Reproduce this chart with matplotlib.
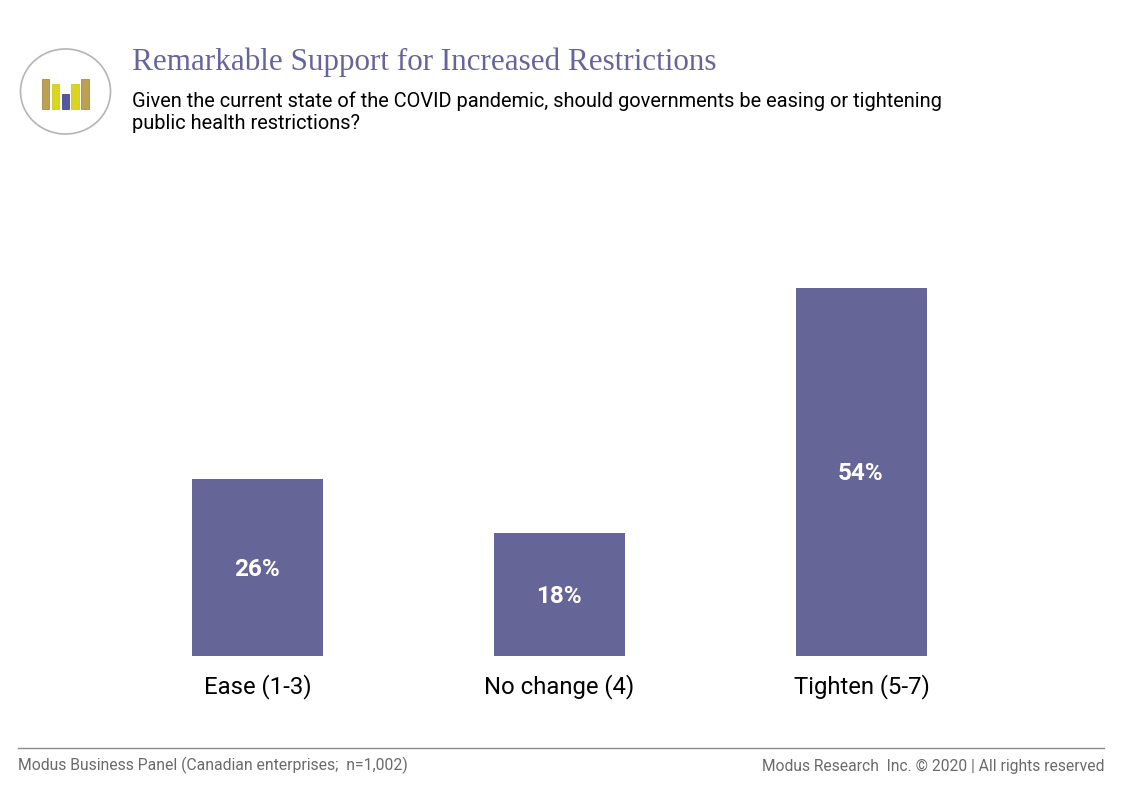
import matplotlib
matplotlib.use("Agg")
import matplotlib.pyplot as plt
from matplotlib.lines import Line2D
from matplotlib.patches import Ellipse

W, H = 1122, 793

# chart data
categories = ["Ease (1-3)", "No change (4)", "Tighten (5-7)"]
values = [26, 18, 54]
value_labels = ["26%", "18%", "54%"]

# little bar icon next to the title
icon_heights = [30, 25, 15, 25, 30]
icon_colors = ["#bca154", "#dcd41f", "#55579b", "#dcd41f", "#bca154"]
icon_edges = ["#a98c45", "#cfc82a", "#45478c", "#cfc82a", "#a98c45"]

title = "Remarkable Support for Increased Restrictions"
subtitle = ("Given the current state of the COVID pandemic, should governments be easing or tightening\n"
            "public health restrictions?")
source = "Modus Business Panel (Canadian enterprises;  n=1,002)"
copyright_text = "Modus Research  Inc. © 2020 | All rights reserved"

plt.rcParams["font.family"] = ["Roboto", "DejaVu Sans"]

fig = plt.figure(figsize=(W / 100, H / 100), dpi=100, facecolor="white")


def px_text(x, y, s, **kw):
    # place text using pixel coordinates from the top left
    return fig.text(x / W, 1 - y / H, s, **kw)


# main bars
ax = fig.add_axes([106.5 / W, 1 - 656 / H, 906 / W, 409 / H])
bars = ax.bar(categories, values, width=0.432, color="#666597")
ax.set_xlim(-0.5, 2.5)
ax.set_ylim(0, 60)
ax.set_yticks([])
for side in ax.spines:
    ax.spines[side].set_visible(False)
ax.tick_params(axis="x", length=0, pad=13, labelsize=17.2, labelcolor="black")
for bar, label in zip(bars, value_labels):
    ax.annotate(label, (bar.get_x() + bar.get_width() / 2, bar.get_height() / 2),
                xytext=(-0.7, -1.2), textcoords="offset points",
                ha="center", va="center", color="white", fontsize=17.5, fontweight="bold")

# icon, its axes uses pixel units with y going down
icon_ax = fig.add_axes([15 / W, 1 - 140 / H, 100 / W, 100 / H])
icon_ax.set_xlim(15, 115)
icon_ax.set_ylim(140, 40)
icon_ax.axis("off")
icon_ax.add_patch(Ellipse((65.5, 91.5), 90, 85, facecolor="white", edgecolor="#b5b5b5", linewidth=1.2))
icon_ax.bar([45.5, 55.5, 65.5, 75, 85], [-h for h in icon_heights], bottom=108.5, width=7.5,
            color=icon_colors, edgecolor=icon_edges, linewidth=0.6)
icon_ax.set_xlim(15, 115)
icon_ax.set_ylim(140, 40)

# header text
px_text(132, 62, title, fontsize=22.4, color="#66659b", va="center", family=["Liberation Serif", "DejaVu Serif"])
px_text(132, 112, subtitle, fontsize=14.4, color="black", va="center", linespacing=1.22)

# footer
fig.add_artist(Line2D([18 / W, 1104 / W], [1 - 748 / H, 1 - 748 / H], color="#8a8a8a", linewidth=1.0))
px_text(18, 765, source, fontsize=11.38, color="#6a6a6a", va="center")
px_text(1104, 766, copyright_text, fontsize=11.24, color="#6a6a6a", va="center", ha="right")

fig.savefig("out.png", dpi=100)
